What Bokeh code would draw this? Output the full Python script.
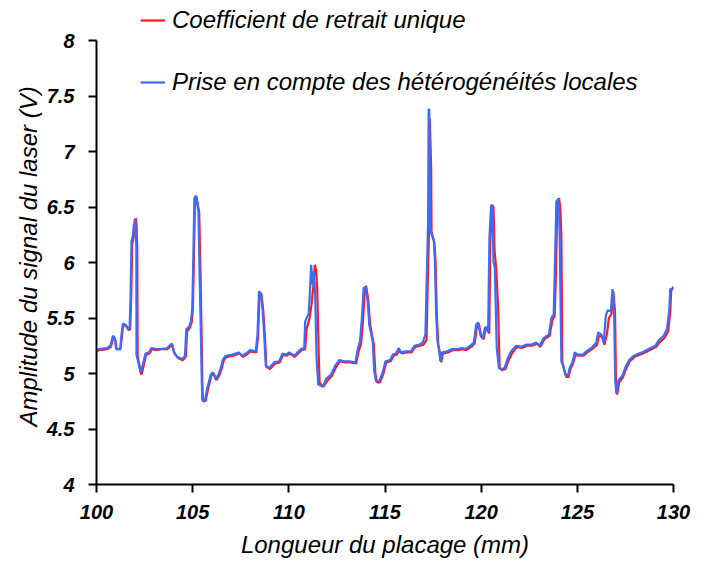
from bokeh.plotting import figure
from bokeh.models import Range1d, FixedTicker, CustomJSTickFormatter, Legend, LegendItem, Title
from bokeh.embed import file_html
from bokeh.resources import INLINE

# Laser signal amplitude along the veneer length: single shrinkage coefficient (red)
# versus accounting for local heterogeneities (blue)
uniq_x = [100.00, 100.12, 100.56, 100.75, 100.88, 100.98, 101.05, 101.25, 101.33, 101.40,
          101.53, 101.68, 101.75, 101.80, 101.86, 101.93, 101.98, 102.04, 102.08, 102.12,
          102.14, 102.18, 102.25, 102.33, 102.44, 102.58, 102.76, 102.89, 103.10, 103.35,
          103.70, 103.93, 104.06, 104.23, 104.48, 104.64, 104.71, 104.84, 104.95, 105.01,
          105.05, 105.12, 105.19, 105.27, 105.34, 105.41, 105.46, 105.50, 105.53, 105.67,
          105.80, 105.97, 106.09, 106.23, 106.38, 106.50, 106.62, 106.76, 107.10, 107.42,
          107.62, 107.88, 108.00, 108.31, 108.40, 108.48, 108.57, 108.67, 108.76, 108.83,
          109.02, 109.28, 109.53, 109.70, 109.87, 110.05, 110.30, 110.48, 110.66, 110.85,
          110.92, 111.08, 111.18, 111.28, 111.35, 111.42, 111.48, 111.55, 111.60, 111.75,
          111.84, 111.98, 112.24, 112.46, 112.66, 112.92, 113.18, 113.50, 113.63, 113.76,
          113.86, 113.95, 114.02, 114.13, 114.22, 114.32, 114.42, 114.50, 114.58, 114.74,
          114.92, 115.06, 115.30, 115.44, 115.61, 115.75, 115.87, 116.12, 116.38, 116.57,
          116.82, 117.00, 117.16, 117.22, 117.30, 117.33, 117.40, 117.42, 117.50, 117.57,
          117.63, 117.70, 117.77, 117.84, 117.92, 118.01, 118.26, 118.52, 118.78, 119.04,
          119.22, 119.48, 119.66, 119.78, 119.88, 120.01, 120.13, 120.23, 120.30, 120.42,
          120.48, 120.57, 120.64, 120.70, 120.78, 120.88, 120.96, 121.08, 121.26, 121.43,
          121.60, 121.86, 122.12, 122.38, 122.64, 122.90, 123.08, 123.29, 123.56, 123.70,
          123.82, 123.88, 123.96, 124.05, 124.12, 124.17, 124.22, 124.30, 124.42, 124.55,
          124.64, 124.78, 124.90, 125.07, 125.33, 125.51, 125.77, 126.03, 126.12, 126.29,
          126.41, 126.54, 126.64, 126.78, 126.87, 126.96, 127.01, 127.07, 127.18, 127.38,
          127.55, 127.73, 127.98, 128.24, 128.41, 128.75, 129.10, 129.27, 129.53, 129.72,
          129.83, 129.88, 129.95, 130.00]
uniq_y = [5.20, 5.21, 5.22, 5.24, 5.33, 5.30, 5.22, 5.22, 5.35, 5.44,
          5.43, 5.39, 5.40, 5.66, 6.17, 6.22, 6.33, 6.40, 6.35, 6.12,
          5.16, 5.12, 5.06, 4.99, 5.06, 5.17, 5.18, 5.22, 5.21, 5.22,
          5.22, 5.26, 5.18, 5.14, 5.12, 5.15, 5.38, 5.41, 5.46, 5.58,
          5.90, 6.57, 6.60, 6.52, 6.45, 5.88, 5.40, 4.95, 4.75, 4.75,
          4.86, 4.98, 5.00, 4.94, 4.98, 5.04, 5.12, 5.15, 5.16, 5.18,
          5.15, 5.18, 5.20, 5.19, 5.33, 5.73, 5.72, 5.57, 5.33, 5.06,
          5.04, 5.09, 5.10, 5.17, 5.16, 5.18, 5.15, 5.18, 5.21, 5.22,
          5.40, 5.50, 5.62, 5.80, 5.98, 5.93, 5.75, 5.20, 4.92, 4.88,
          4.89, 4.93, 4.98, 5.06, 5.11, 5.10, 5.10, 5.09, 5.20, 5.27,
          5.48, 5.75, 5.79, 5.66, 5.45, 5.35, 5.26, 5.00, 4.92, 4.92,
          5.00, 5.10, 5.11, 5.16, 5.17, 5.21, 5.18, 5.19, 5.19, 5.24,
          5.25, 5.26, 5.30, 5.80, 6.35, 7.30, 6.85, 6.28, 6.22, 6.18,
          6.00, 5.50, 5.26, 5.20, 5.10, 5.18, 5.19, 5.21, 5.21, 5.22,
          5.21, 5.24, 5.27, 5.42, 5.45, 5.33, 5.31, 5.40, 5.41, 5.36,
          6.20, 6.52, 6.50, 6.10, 5.95, 5.60, 5.05, 5.03, 5.04, 5.12,
          5.18, 5.24, 5.23, 5.25, 5.25, 5.27, 5.24, 5.31, 5.34, 5.48,
          5.52, 5.85, 6.52, 6.58, 6.48, 6.25, 5.10, 5.05, 4.97, 4.97,
          5.04, 5.09, 5.17, 5.16, 5.16, 5.19, 5.22, 5.26, 5.34, 5.33,
          5.26, 5.36, 5.50, 5.54, 5.74, 5.56, 4.92, 4.81, 4.92, 4.97,
          5.05, 5.11, 5.15, 5.17, 5.18, 5.21, 5.24, 5.28, 5.32, 5.38,
          5.55, 5.75, 5.76, 5.78]

local_x = [100.00, 100.12, 100.56, 100.73, 100.85, 100.95, 101.02, 101.23, 101.30, 101.37,
           101.51, 101.65, 101.72, 101.77, 101.82, 101.89, 101.94, 102.00, 102.03, 102.07,
           102.08, 102.12, 102.20, 102.29, 102.41, 102.55, 102.73, 102.86, 103.07, 103.33,
           103.68, 103.91, 104.03, 104.20, 104.46, 104.60, 104.67, 104.81, 104.91, 104.98,
           105.02, 105.09, 105.16, 105.23, 105.30, 105.36, 105.42, 105.47, 105.50, 105.64,
           105.76, 105.94, 106.06, 106.20, 106.34, 106.46, 106.58, 106.72, 107.07, 107.38,
           107.59, 107.85, 107.97, 108.28, 108.37, 108.45, 108.54, 108.63, 108.72, 108.80,
           108.98, 109.24, 109.50, 109.67, 109.84, 110.02, 110.28, 110.45, 110.63, 110.80,
           110.85, 111.03, 111.09, 111.16, 111.23, 111.30, 111.37, 111.44, 111.53, 111.67,
           111.79, 111.93, 112.19, 112.41, 112.62, 112.88, 113.14, 113.46, 113.58, 113.70,
           113.80, 113.89, 113.98, 114.10, 114.18, 114.27, 114.36, 114.44, 114.53, 114.70,
           114.88, 115.02, 115.26, 115.40, 115.57, 115.71, 115.83, 116.09, 116.35, 116.53,
           116.79, 116.96, 117.10, 117.17, 117.24, 117.27, 117.30, 117.35, 117.45, 117.53,
           117.59, 117.66, 117.73, 117.80, 117.88, 117.97, 118.23, 118.49, 118.75, 119.01,
           119.18, 119.44, 119.62, 119.74, 119.84, 119.97, 120.09, 120.19, 120.26, 120.36,
           120.43, 120.52, 120.59, 120.64, 120.71, 120.81, 120.92, 121.04, 121.22, 121.39,
           121.56, 121.82, 122.08, 122.34, 122.60, 122.86, 123.04, 123.25, 123.52, 123.65,
           123.77, 123.82, 123.91, 124.00, 124.05, 124.08, 124.17, 124.26, 124.38, 124.51,
           124.60, 124.74, 124.86, 125.03, 125.29, 125.47, 125.73, 125.99, 126.08, 126.25,
           126.37, 126.48, 126.57, 126.74, 126.83, 126.91, 126.97, 127.03, 127.14, 127.34,
           127.51, 127.69, 127.94, 128.20, 128.37, 128.71, 129.06, 129.23, 129.49, 129.66,
           129.78, 129.83, 129.91, 130.00]
local_y = [5.20, 5.22, 5.23, 5.25, 5.34, 5.32, 5.22, 5.22, 5.35, 5.45,
           5.44, 5.40, 5.41, 5.68, 6.19, 6.24, 6.34, 6.39, 6.32, 6.14,
           5.17, 5.14, 5.08, 5.01, 5.08, 5.18, 5.19, 5.23, 5.22, 5.22,
           5.23, 5.27, 5.19, 5.15, 5.13, 5.16, 5.40, 5.42, 5.47, 5.59,
           5.92, 6.58, 6.60, 6.54, 6.46, 5.89, 5.41, 4.96, 4.76, 4.76,
           4.87, 4.99, 5.01, 4.95, 4.99, 5.05, 5.13, 5.16, 5.17, 5.19,
           5.16, 5.19, 5.21, 5.20, 5.35, 5.74, 5.72, 5.59, 5.35, 5.07,
           5.05, 5.10, 5.11, 5.18, 5.17, 5.19, 5.16, 5.19, 5.22, 5.23,
           5.47, 5.54, 5.71, 5.98, 5.80, 5.92, 5.71, 5.14, 4.90, 4.89,
           4.89, 4.95, 4.99, 5.07, 5.12, 5.11, 5.11, 5.10, 5.22, 5.29,
           5.50, 5.77, 5.78, 5.65, 5.44, 5.37, 5.29, 5.02, 4.93, 4.93,
           5.01, 5.11, 5.12, 5.17, 5.18, 5.23, 5.19, 5.20, 5.20, 5.25,
           5.26, 5.28, 5.35, 5.85, 6.37, 7.38, 7.38, 6.30, 6.24, 6.21,
           6.04, 5.53, 5.29, 5.22, 5.11, 5.19, 5.20, 5.22, 5.22, 5.23,
           5.22, 5.25, 5.28, 5.44, 5.46, 5.34, 5.32, 5.41, 5.42, 5.37,
           6.22, 6.52, 6.49, 6.01, 5.95, 5.23, 5.05, 5.04, 5.05, 5.14,
           5.20, 5.25, 5.24, 5.26, 5.26, 5.28, 5.25, 5.32, 5.35, 5.50,
           5.53, 5.86, 6.55, 6.57, 6.49, 6.24, 5.11, 5.07, 4.99, 4.98,
           5.05, 5.10, 5.19, 5.17, 5.17, 5.20, 5.23, 5.28, 5.37, 5.35,
           5.28, 5.52, 5.57, 5.56, 5.76, 5.58, 4.94, 4.82, 4.94, 4.98,
           5.06, 5.12, 5.16, 5.18, 5.19, 5.22, 5.25, 5.30, 5.34, 5.40,
           5.57, 5.76, 5.76, 5.78]

x_ticks = [100, 105, 110, 115, 120, 125, 130]
y_ticks = [4, 4.5, 5, 5.5, 6, 6.5, 7, 7.5, 8]
series_names = ["Coefficient de retrait unique",
                "Prise en compte des hétérogénéités locales"]
x_title = "Longueur du placage (mm)"
y_title = "Amplitude du signal du laser (V)"

FONT = "Liberation Sans"
Y_MIN, Y_MAX = 4, 8
FRAME_H = 484          # frame runs to the top edge so the legend has room above 8 V
PX_PER_V = 111         # vertical scale of the 4..8 V span
y_top = Y_MIN + FRAME_H / PX_PER_V

p = figure(frame_width=577, frame_height=FRAME_H,
           min_border_left=96, min_border_right=35,
           min_border_top=0, min_border_bottom=83,
           x_range=Range1d(100, 130), y_range=Range1d(Y_MIN, y_top),
           output_backend="svg", toolbar_location=None,
           background_fill_color="white", border_fill_color="white")
p.outline_line_color = None
p.grid.visible = False

r_uniq = p.line(uniq_x, uniq_y, line_color="#FF1A1A", line_width=2.2)
r_local = p.line(local_x, local_y, line_color="#3A6CFF", line_width=2.2)

for ax in (p.xaxis[0], p.yaxis[0]):
    ax.axis_line_width = 2
    ax.axis_line_color = "black"
    ax.major_tick_line_width = 2
    ax.major_tick_line_color = "black"
    ax.major_tick_in = 0
    ax.major_tick_out = 8
    ax.minor_tick_line_color = None
    ax.major_label_text_font = FONT
    ax.major_label_text_font_style = "bold italic"
    ax.major_label_text_font_size = "20px"
    ax.major_label_text_color = "black"
    ax.axis_label_text_font = FONT
    ax.axis_label_text_font_style = "italic"
    ax.axis_label_text_font_size = "24px"
    ax.axis_label_text_color = "black"
    ax.formatter = CustomJSTickFormatter(code="return tick.toString();")

p.xaxis[0].ticker = FixedTicker(ticks=x_ticks)
p.yaxis[0].ticker = FixedTicker(ticks=y_ticks)
p.yaxis[0].bounds = (Y_MIN, Y_MAX)
p.xaxis[0].axis_label = x_title
p.xaxis[0].major_label_standoff = 12
p.xaxis[0].axis_label_standoff = 9
p.yaxis[0].major_label_standoff = 14

# vertical title centred on the 4..8 V span rather than on the taller frame
p.add_layout(Title(text=y_title, align="left", offset=58, standoff=4,
                   text_font=FONT, text_font_style="italic",
                   text_font_size="24px", text_color="black"), "left")

legend = Legend(items=[LegendItem(label=series_names[0], renderers=[r_uniq]),
                       LegendItem(label=series_names[1], renderers=[r_local])],
                location=(44, 387), padding=0, margin=0, spacing=32,
                label_height=30, glyph_height=30, glyph_width=25, label_standoff=7,
                background_fill_alpha=0, border_line_alpha=0,
                label_text_font=FONT, label_text_font_style="italic",
                label_text_font_size="24px", label_text_color="black")
p.add_layout(legend, "center")

open("out.html", "w").write(file_html(p, INLINE))
